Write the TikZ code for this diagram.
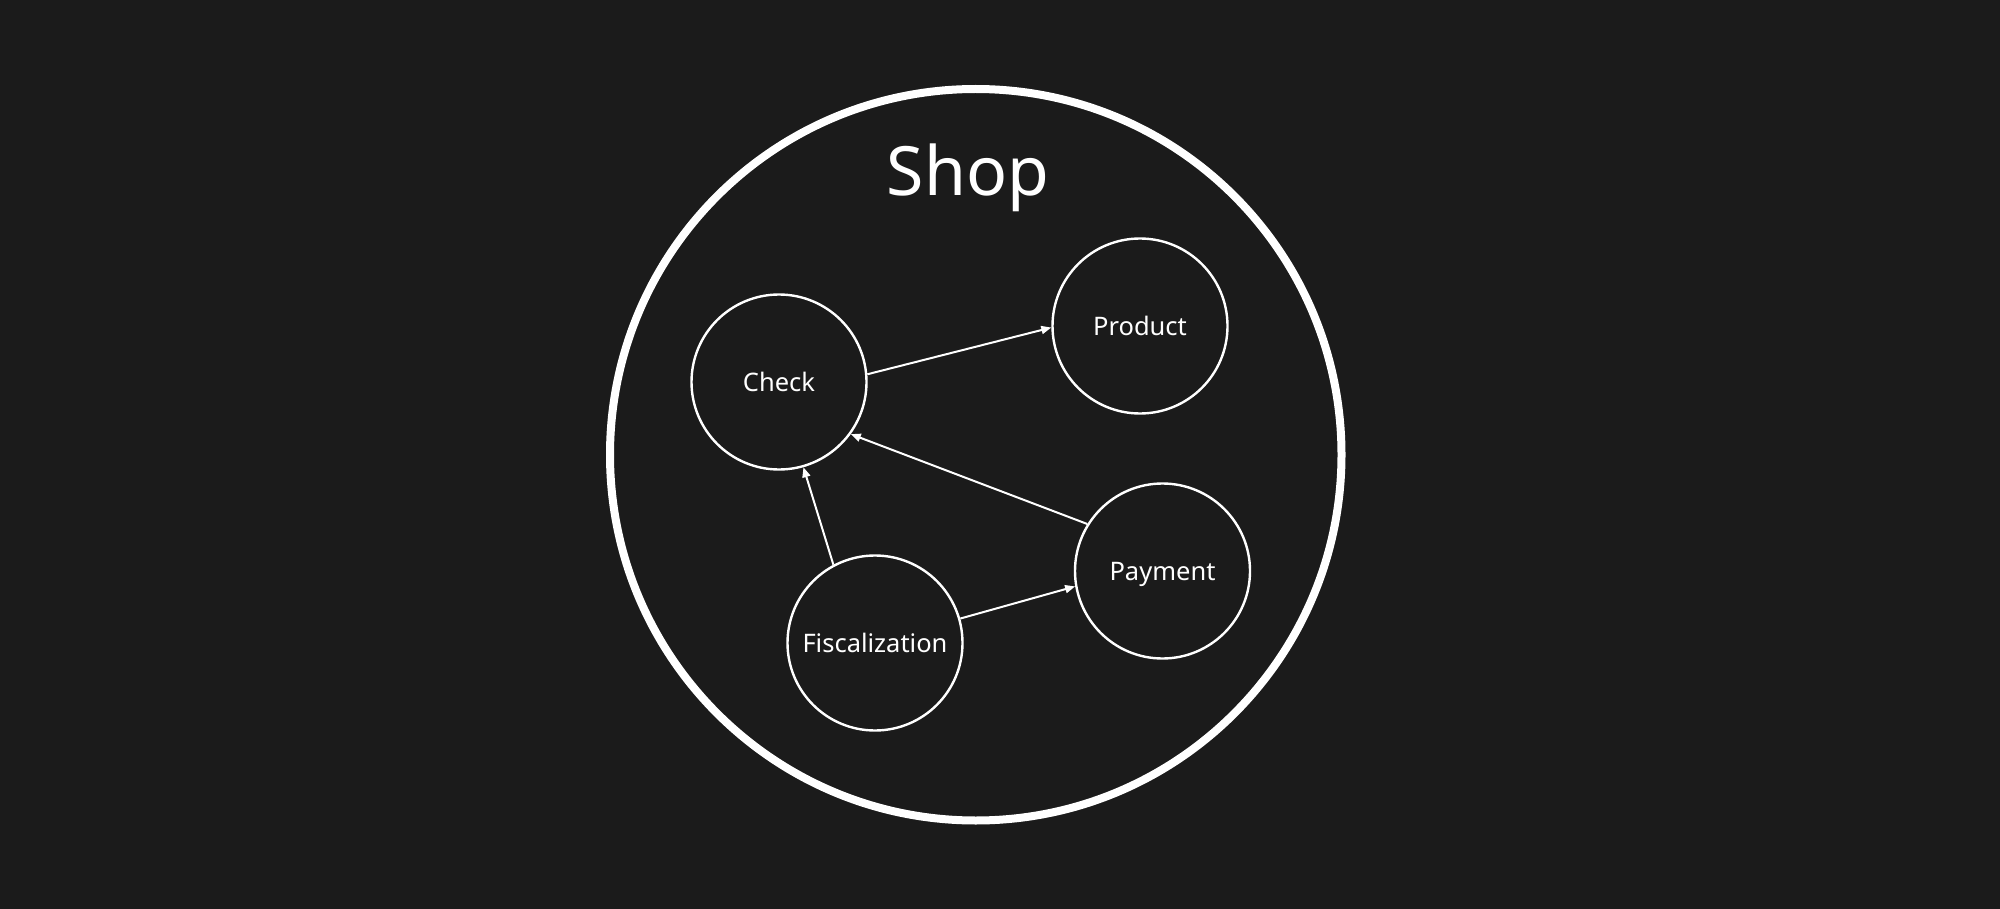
\documentclass[tikz,border=0pt]{standalone}
\usepackage{fontspec}
\setmainfont{Noto Sans}
\usetikzlibrary{arrows.meta}
\definecolor{bg}{HTML}{1B1B1B}
\tikzset{
  svc/.style={circle, draw=white, line width=2.4pt, fill=bg, minimum size=175pt, inner sep=0pt,
    text=white, font=\fontsize{25.5}{30}\selectfont, text height=18.5pt, text depth=0pt},
  dep/.style={draw=white, line width=2pt, -{Triangle[length=10pt,width=8pt]}},
  shopring/.style={circle, draw=white, line width=8pt, minimum size=731.5pt, inner sep=0pt},
  title/.style={text=white, font=\fontsize{68}{80}\selectfont, anchor=base, inner sep=0pt}
}
\begin{document}
\begin{tikzpicture}[x=1pt,y=-1pt]
\fill[bg] (0,0) rectangle (2000,909);
\useasboundingbox (0,0) rectangle (2000,909);
\node[shopring] (shop) at (975.75,454.75) {};
\node[title] (shoptitle) at (968,196) {Shop};
\node[svc] (check) at (779,382) {Check};
\node[svc] (product) at (1140,326) {Product};
\node[svc] (payment) at (1162.5,571) {Payment};
\node[svc] (fisc) at (875,643) {Fiscalization};
\draw[dep] (check.5) -- (product.181);
\draw[dep] (payment.148) -- (check.-36);
\draw[dep] (fisc.118) -- (check.-74);
\draw[dep] (fisc.16) -- (payment.190);
\end{tikzpicture}
\end{document}
